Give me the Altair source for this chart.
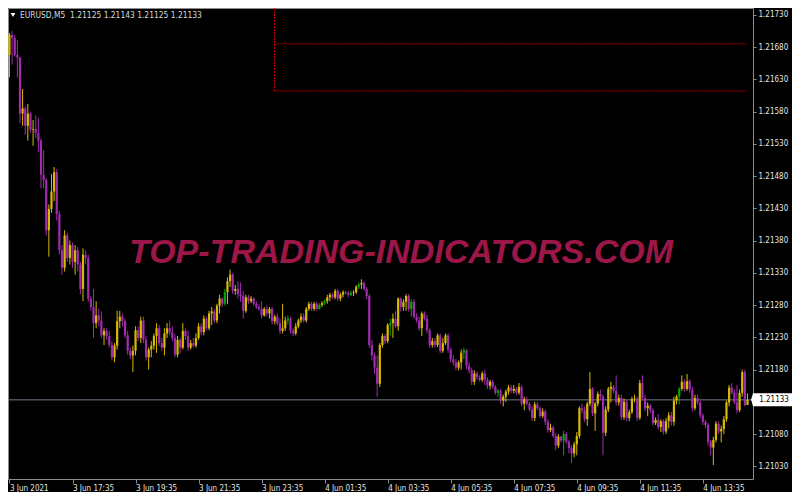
import json
import altair as alt
import pandas as pd

# ---------------- data (prices in points of 1e-5 above 1.21000) ----------------
BASE = 1.21
PIP = 1e-5
symbol = "EURUSD,M5"
watermark = "TOP-TRADING-INDICATORS.COM"

first_open = 668
close = [
    699, 694, 668, 664, 577, 585, 558, 577, 552, 553,
    547, 535, 482, 474, 396, 429, 456, 486, 421, 365,
    338, 388, 353, 373, 347, 365, 343, 305, 358, 353,
    290, 277, 252, 264, 256, 233, 240, 232, 218, 199,
    217, 255, 262, 255, 233, 209, 202, 209, 241, 229,
    256, 226, 199, 211, 217, 232, 244, 221, 214, 236,
    244, 238, 229, 203, 226, 214, 240, 232, 214, 221,
    217, 229, 247, 238, 259, 244, 267, 270, 256, 279,
    290, 282, 300, 317, 327, 302, 305, 297, 294, 271,
    292, 286, 290, 282, 277, 274, 264, 274, 267, 274,
    255, 262, 252, 240, 244, 256, 259, 240, 236, 247,
    256, 262, 256, 274, 282, 274, 282, 274, 280, 283,
    286, 292, 296, 292, 302, 290, 296, 300, 299, 296,
    299, 300, 308, 312, 314, 305, 294, 218, 202, 183,
    158, 218, 232, 224, 249, 252, 259, 247, 290, 277,
    285, 294, 274, 285, 262, 256, 244, 267, 259, 241,
    218, 224, 218, 233, 209, 221, 233, 211, 196, 191,
    183, 191, 206, 210, 186, 179, 161, 174, 168, 164,
    174, 164, 155, 161, 153, 144, 147, 132, 138, 146,
    152, 147, 150, 144, 153, 127, 134, 127, 118, 105,
    126, 120, 108, 115, 99, 86, 90, 77, 62, 76,
    70, 80, 68, 58, 50, 64, 77, 120, 117, 103,
    127, 150, 112, 127, 142, 138, 82, 118, 150, 153,
    147, 129, 136, 106, 130, 105, 114, 134, 135, 105,
    159, 136, 120, 124, 117, 97, 102, 91, 100, 84,
    100, 109, 99, 132, 138, 150, 161, 150, 162, 149,
    120, 136, 129, 109, 99, 94, 68, 59, 71, 96,
    84, 88, 103, 129, 152, 144, 129, 117, 144, 176,
    125, 133,
]
high = [
    702, 705, 699, 691, 665, 615, 588, 592, 580, 567,
    574, 570, 538, 520, 477, 436, 483, 494, 491, 426,
    373, 396, 392, 380, 377, 373, 370, 347, 368, 365,
    358, 294, 305, 286, 274, 270, 244, 244, 240, 224,
    221, 271, 271, 267, 259, 240, 214, 217, 247, 247,
    262, 262, 232, 214, 224, 236, 252, 249, 229, 244,
    252, 256, 247, 235, 232, 229, 252, 244, 241, 226,
    229, 236, 252, 252, 264, 262, 271, 277, 274, 282,
    296, 292, 305, 323, 335, 330, 311, 317, 315, 302,
    296, 296, 294, 292, 286, 282, 286, 277, 279, 277,
    277, 265, 267, 259, 282, 262, 264, 262, 244, 252,
    259, 267, 267, 277, 285, 285, 285, 285, 283, 286,
    289, 296, 299, 299, 305, 305, 299, 303, 302, 302,
    302, 303, 311, 315, 320, 317, 308, 297, 226, 206,
    202, 221, 236, 235, 252, 259, 267, 271, 292, 292,
    289, 297, 297, 289, 289, 267, 262, 270, 270, 265,
    244, 229, 229, 236, 236, 229, 236, 236, 214, 202,
    196, 194, 211, 214, 212, 191, 183, 179, 177, 171,
    177, 180, 168, 164, 164, 156, 150, 150, 141, 149,
    156, 156, 156, 153, 159, 156, 138, 138, 130, 123,
    130, 130, 123, 120, 118, 103, 96, 93, 82, 80,
    77, 85, 83, 71, 62, 68, 83, 123, 127, 123,
    130, 176, 153, 130, 146, 149, 141, 123, 153, 161,
    156, 171, 141, 141, 135, 133, 118, 138, 141, 138,
    164, 171, 141, 129, 127, 120, 106, 111, 103, 103,
    105, 114, 114, 138, 141, 153, 171, 165, 173, 165,
    153, 141, 141, 132, 112, 102, 97, 71, 76, 100,
    100, 93, 108, 132, 156, 159, 149, 156, 149, 180,
    180, 143,
]
low = [
    633, 653, 665, 633, 562, 558, 544, 535, 547, 527,
    539, 517, 461, 461, 388, 355, 423, 441, 411, 358,
    327, 332, 347, 343, 338, 327, 332, 297, 286, 343,
    285, 271, 229, 244, 247, 229, 218, 226, 214, 194,
    191, 211, 244, 247, 229, 203, 196, 176, 202, 224,
    221, 221, 194, 180, 199, 211, 206, 217, 209, 202,
    229, 233, 224, 199, 199, 205, 211, 226, 209, 211,
    214, 214, 226, 233, 233, 241, 241, 249, 252, 252,
    267, 277, 279, 282, 308, 297, 296, 290, 285, 259,
    268, 282, 283, 279, 274, 271, 259, 262, 262, 259,
    250, 250, 249, 235, 236, 240, 250, 236, 232, 233,
    244, 252, 253, 253, 271, 271, 271, 271, 273, 277,
    280, 282, 286, 289, 289, 286, 286, 292, 296, 292,
    294, 294, 297, 305, 305, 302, 289, 214, 194, 173,
    138, 153, 214, 220, 221, 233, 229, 244, 240, 270,
    271, 271, 270, 262, 259, 253, 240, 232, 256, 236,
    214, 214, 214, 215, 205, 206, 218, 206, 191, 186,
    179, 179, 180, 196, 180, 174, 156, 156, 164, 161,
    161, 156, 150, 149, 150, 141, 138, 127, 123, 130,
    141, 143, 143, 140, 141, 123, 117, 124, 115, 100,
    100, 117, 105, 105, 94, 82, 83, 74, 55, 58,
    67, 47, 65, 50, 35, 44, 47, 73, 112, 99,
    93, 123, 108, 85, 123, 133, 47, 77, 114, 129,
    143, 124, 124, 102, 102, 100, 100, 111, 129, 100,
    102, 132, 115, 108, 112, 93, 94, 87, 83, 79,
    80, 89, 93, 93, 126, 126, 147, 146, 147, 144,
    115, 117, 126, 105, 94, 89, 62, 47, 32, 67,
    80, 67, 80, 99, 123, 141, 126, 112, 114, 138,
    123, 125,
]
green_bars = [82, 106, 118, 120, 130, 133, 145, 153, 173, 186, 211, 255]

tick_bars = [0, 24, 48, 72, 96, 120, 144, 168, 192, 216, 240, 264]
tick_labels = ["3 Jun 2021", "3 Jun 17:35", "3 Jun 19:35", "3 Jun 21:35",
               "3 Jun 23:35", "4 Jun 01:35", "4 Jun 03:35", "4 Jun 05:35",
               "4 Jun 07:35", "4 Jun 09:35", "4 Jun 11:35", "4 Jun 13:35"]
price_ticks = [1.21730, 1.21680, 1.21630, 1.21580, 1.21530, 1.21480, 1.21430,
               1.21380, 1.21330, 1.21280, 1.21230, 1.21180, 1.21080, 1.21030]

level_prices = [1.21685, 1.21612]   # red dotted levels
level_start = 100.9                 # bar of 4 Jun 00:00
level_end = 280.6

# ---------------- build tables ----------------
n = len(close)
opens = [first_open] + close[:-1]
kinds = []
for i in range(n):
    if i in green_bars:
        kinds.append("green")
    elif close[i] >= opens[i]:
        kinds.append("up")
    else:
        kinds.append("down")

def px(v):
    return round(BASE + v * PIP, 5)

df = pd.DataFrame({
    "i": list(range(n)),
    "o": [px(v) for v in opens],
    "h": [px(v) for v in high],
    "l": [px(v) for v in low],
    "c": [px(v) for v in close],
    "kind": kinds,
})

last_o, last_h, last_l, last_c = px(opens[-1]), px(high[-1]), px(low[-1]), px(close[-1])

W, H = 745, 471
x_domain = [-0.56, 283.1]
y_domain = [1.2101028, 1.2174063]

FONT = "DejaVu Sans Condensed, DejaVu Sans, sans-serif"
LABEL_COLOR = "#e4e4e4"
GRID_GRAY = "#8c8c8c"

x_scale = alt.Scale(domain=x_domain, nice=False, zero=False)
y_scale = alt.Scale(domain=y_domain, nice=False, zero=False)

label_expr = "{}[indexof({}, datum.value)]".format(json.dumps(tick_labels), json.dumps(tick_bars))
x_axis = alt.Axis(values=tick_bars, labelExpr=label_expr, title=None, grid=False,
                  domain=False, orient="bottom", labelAlign="left", labelBaseline="top",
                  labelPadding=1, tickSize=4, tickColor=GRID_GRAY, labelColor=LABEL_COLOR,
                  labelFont=FONT, labelFontSize=8, labelOverlap=False, labelFlush=False)
y_axis = alt.Axis(values=price_ticks, format=".5f", title=None, grid=False, domain=False,
                  orient="right", tickSize=3, tickColor=GRID_GRAY, labelColor=LABEL_COLOR,
                  labelFont=FONT, labelFontSize=8, labelPadding=2, labelOverlap=False,
                  labelFlush=False)

kind_scale_wick = alt.Scale(domain=["up", "down", "green"], range=["#d8ba00", "#a02cae", "#00a800"])
kind_scale_body = alt.Scale(domain=["up", "down", "green"], range=["#bca200", "#f29cf6", "#00c800"])

# ---------------- layers ----------------
wm = alt.Chart(pd.DataFrame({"t": [watermark]})).mark_text(
    font="Liberation Sans, Arial, sans-serif", fontSize=34, fontStyle="italic",
    fontWeight="bold", color="#9c1748", align="center", baseline="middle"
).encode(x=alt.value(393), y=alt.value(245), text="t:N")

levels_df = pd.DataFrame({"i": [level_start] * len(level_prices),
                          "i2": [level_end] * len(level_prices),
                          "p": level_prices})
hlevels = alt.Chart(levels_df).mark_rule(color="#c00000", strokeDash=[2, 1], strokeWidth=1).encode(
    x=alt.X("i:Q", scale=x_scale, axis=x_axis), x2="i2:Q",
    y=alt.Y("p:Q", scale=y_scale, axis=y_axis))

vline_df = pd.DataFrame({"i": [level_start], "p": [y_domain[1]], "p2": [min(level_prices)]})
vlevel = alt.Chart(vline_df).mark_rule(color="#c00000", strokeDash=[2, 1], strokeWidth=1).encode(
    x=alt.X("i:Q", scale=x_scale, axis=x_axis),
    y=alt.Y("p:Q", scale=y_scale, axis=y_axis), y2="p2:Q")

last_df = pd.DataFrame({"p": [last_c], "t": [f"{last_c:.5f}"]})
last_line = alt.Chart(last_df).mark_rule(color="#6e7e8e", strokeWidth=1).encode(
    y=alt.Y("p:Q", scale=y_scale, axis=y_axis), x=alt.value(0), x2=alt.value(W))

wicks = alt.Chart(df).mark_rule(strokeWidth=1).encode(
    x=alt.X("i:Q", scale=x_scale, axis=x_axis),
    y=alt.Y("l:Q", scale=y_scale, axis=y_axis), y2="h:Q",
    color=alt.Color("kind:N", scale=kind_scale_wick, legend=None))

bodies = alt.Chart(df).mark_rule(strokeWidth=2.2).encode(
    x=alt.X("i:Q", scale=x_scale, axis=x_axis),
    y=alt.Y("o:Q", scale=y_scale, axis=y_axis), y2="c:Q",
    color=alt.Color("kind:N", scale=kind_scale_body, legend=None))

box_shape = "M-3.3,0L-3.0,-1L3.0,-1L3.0,1L-3.0,1Z"
price_box = alt.Chart(last_df).mark_point(shape=box_shape, filled=True, fill="#ffffff",
                                          stroke=None, opacity=1, size=169).encode(
    x=alt.value(764.5), y=alt.Y("p:Q", scale=y_scale, axis=y_axis))
price_txt = alt.Chart(last_df).mark_text(font=FONT, fontSize=8, color="#000000",
                                         align="center", baseline="middle").encode(
    x=alt.value(766), y=alt.Y("p:Q", scale=y_scale, axis=y_axis), text="t:N")

header_text = f"{symbol}\u00a0 {last_o:.5f} {last_h:.5f} {last_l:.5f} {last_c:.5f}"
hdr = alt.Chart(pd.DataFrame({"t": [header_text]})).mark_text(
    font=FONT, fontSize=8.4, color="#d8d8d8", align="left", baseline="middle"
).encode(x=alt.value(12), y=alt.value(7), text="t:N")
tri = alt.Chart(pd.DataFrame({"t": ["v"]})).mark_point(
    shape="triangle-down", filled=True, fill="#ffffff", stroke=None, opacity=1, size=22
).encode(x=alt.value(5), y=alt.value(7))

chart = alt.layer(wm, hlevels, vlevel, last_line, wicks, bodies, price_box, price_txt, hdr, tri).properties(
    width=W, height=H,
    autosize=alt.AutoSizeParams(type="none"),
    padding={"left": 0, "top": 0, "right": 39, "bottom": 13},
    background="#000000",
).configure_view(stroke=GRID_GRAY, strokeWidth=1)

chart.save("out.html", embed_options={"renderer": "svg", "actions": False})
